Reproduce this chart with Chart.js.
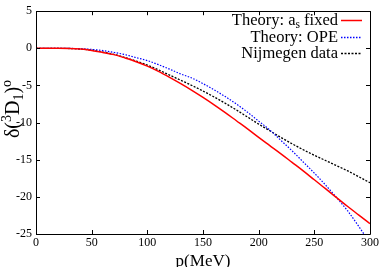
<!DOCTYPE html>
<html><head><meta charset="utf-8">
<script src="https://cdn.jsdelivr.net/npm/chart.js@4"></script>
<style>html,body{margin:0;padding:0;background:#fff;overflow:hidden}</style>
</head><body>
<canvas id="c" width="382" height="267" style="width:382px;height:267px;display:block"></canvas>
<script>
const momenta = [0,10,20,30,40,50,60,70,80,90,100,110,120,130,140,150,160,170,180,190,200,210,220,230,240,250,260,270,280,290,300];
const asFixed = [0,0,0,-0.02,-0.1,-0.28,-0.55,-0.85,-1.3,-1.8,-2.4,-3.1,-3.9,-4.75,-5.65,-6.6,-7.6,-8.65,-9.75,-10.85,-12.0,-13.1,-14.2,-15.35,-16.5,-17.7,-18.9,-20.1,-21.3,-22.45,-23.6];
const ope = [0,0,0,-0.01,-0.05,-0.15,-0.3,-0.55,-0.85,-1.25,-1.65,-2.2,-2.8,-3.45,-4.0,-4.75,-5.6,-6.5,-7.5,-8.6,-9.8,-11.0,-12.4,-13.8,-15.3,-16.8,-18.4,-20.1,-21.9,-24.0,-26.2];
const nijmegen = [0,0,0,-0.02,-0.1,-0.25,-0.5,-0.82,-1.25,-1.72,-2.25,-2.9,-3.6,-4.3,-5.0,-5.75,-6.55,-7.4,-8.3,-9.25,-10.2,-11.1,-12.0,-12.85,-13.65,-14.4,-15.1,-15.8,-16.5,-17.3,-18.1];
const xTicks = [0,50,100,150,200,250,300];
const yTicks = [-25,-20,-15,-10,-5,0,5];
const seriesLabels = ['Theory: a_s fixed','Theory: OPE','Nijmegen data'];
const seriesColors = ['#ff0000','#0000ff','#000000'];

const SERIF = '"Liberation Serif","Times New Roman",serif';

function pts(arr){ return momenta.map((p,i)=>({x:p,y:arr[i]})); }

function runsWidth(ctx, runs, size){
  let w=0;
  for(const r of runs){
    const fs = r.s ? size*0.7 : size;
    ctx.font = fs+'px '+SERIF;
    w += ctx.measureText(r.t).width;
  }
  return w;
}
function drawRuns(ctx, runs, x, y, size){
  let cx=x;
  for(const r of runs){
    const fs = r.s ? size*0.7 : size;
    ctx.font = fs+'px '+SERIF;
    const dy = r.s===1 ? -size*0.38 : (r.s===-1 ? size*0.22 : 0);
    ctx.fillText(r.t, cx, y+dy);
    cx += ctx.measureText(r.t).width;
  }
}
function parseLabel(lbl){
  const runs=[]; let buf='';
  for(let i=0;i<lbl.length;i++){
    if(lbl[i]==='_' && i+1<lbl.length){
      if(buf) runs.push({t:buf,s:0}); buf='';
      runs.push({t:lbl[i+1],s:-1}); i++;
    } else buf+=lbl[i];
  }
  if(buf) runs.push({t:buf,s:0});
  return runs;
}

const framePlugin = {
  id:'frame',
  afterDraw(chart){
    const ctx = chart.ctx, a = chart.chartArea;
    const xs = chart.scales.x, ys = chart.scales.y;
    ctx.save();
    ctx.strokeStyle = '#000'; ctx.lineWidth = 1;
    ctx.beginPath();
    ctx.rect(Math.round(a.left)+0.5, Math.round(a.top)+0.5, Math.round(a.right-a.left), Math.round(a.bottom-a.top));
    ctx.stroke();
    const tl = 4;
    ctx.beginPath();
    for(const v of xTicks){
      const px = Math.round(xs.getPixelForValue(v))+0.5;
      ctx.moveTo(px, a.bottom); ctx.lineTo(px, a.bottom-tl);
      ctx.moveTo(px, a.top); ctx.lineTo(px, a.top+tl);
    }
    for(const v of yTicks){
      const py = Math.round(ys.getPixelForValue(v))+0.5;
      ctx.moveTo(a.left, py); ctx.lineTo(a.left+tl, py);
      ctx.moveTo(a.right, py); ctx.lineTo(a.right-tl, py);
    }
    ctx.stroke();

    // legend
    ctx.fillStyle = '#000';
    ctx.textBaseline = 'alphabetic'; ctx.textAlign = 'left';
    const rowsY = [20, 37, 53];
    chart.data.datasets.forEach((ds,i)=>{
      const runs = parseLabel(ds.label);
      const w = runsWidth(ctx, runs, 16.5);
      drawRuns(ctx, runs, 338 - w, rowsY[i]+4.5, 16.5);
      ctx.save();
      ctx.strokeStyle = ds.borderColor; ctx.lineWidth = Math.max(ds.borderWidth,1.4);
      ctx.setLineDash(ds.borderDash || []);
      ctx.beginPath(); ctx.moveTo(341, rowsY[i]+0.5); ctx.lineTo(362, rowsY[i]+0.5); ctx.stroke();
      ctx.restore();
    });

    // x title
    ctx.font = '17px '+SERIF; ctx.textAlign='center';
    ctx.fillText('p(MeV)', (a.left+a.right)/2, 265.5);

    // y title
    ctx.textAlign='left';
    const yr = [{t:'δ(',s:0},{t:'3',s:1},{t:'D',s:0},{t:'1',s:-1},{t:')',s:0},{t:'o',s:1}];
    ctx.translate(19, 109);
    ctx.rotate(-Math.PI/2);
    const yw = runsWidth(ctx, yr, 20);
    drawRuns(ctx, yr, -yw/2, 0, 20);
    ctx.restore();
  }
};

new Chart(document.getElementById('c'), {
  type:'line',
  data:{
    datasets:[
      {label:seriesLabels[0], data:pts(asFixed), borderColor:seriesColors[0], borderWidth:1.5, pointRadius:0, cubicInterpolationMode:'monotone', fill:false},
      {label:seriesLabels[1], data:pts(ope), borderColor:seriesColors[1], borderWidth:1.2, borderDash:[1.5,1.5], pointRadius:0, cubicInterpolationMode:'monotone', fill:false},
      {label:seriesLabels[2], data:pts(nijmegen), borderColor:seriesColors[2], borderWidth:1.3, borderDash:[2,1.5], pointRadius:0, cubicInterpolationMode:'monotone', fill:false}
    ]
  },
  options:{
    responsive:false, animation:false, devicePixelRatio:1,
    layout:{padding:{top:8,right:12,left:0,bottom:0}},
    plugins:{legend:{display:false}, tooltip:{enabled:false}},
    scales:{
      x:{type:'linear', min:0, max:300,
        afterBuildTicks:s=>{s.ticks = xTicks.map(v=>({value:v}));},
        afterFit:s=>{s.height = 33;},
        grid:{display:false, drawTicks:false}, border:{display:false},
        ticks:{font:{family:SERIF,size:12}, color:'#000', padding:2, maxRotation:0, autoSkip:false}},
      y:{type:'linear', min:-25, max:5,
        afterBuildTicks:s=>{s.ticks = yTicks.map(v=>({value:v}));},
        afterFit:s=>{s.width = 36;},
        grid:{display:false, drawTicks:false}, border:{display:false},
        ticks:{font:{family:SERIF,size:12}, color:'#000', padding:4, autoSkip:false}}
    }
  },
  plugins:[framePlugin]
});
</script>
</body></html>
